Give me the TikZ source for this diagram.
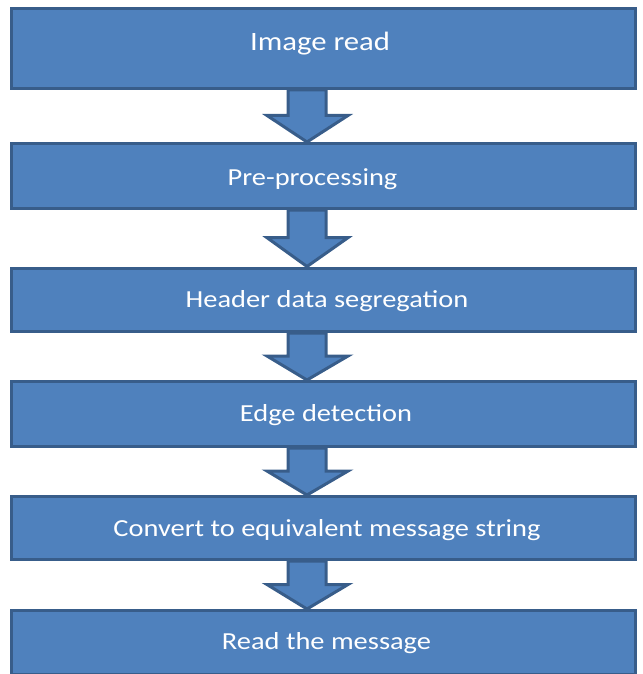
\documentclass[tikz,border=0pt]{standalone}
\usepackage{graphicx}
\usepackage{fontspec}
\setmainfont{Carlito}
\usetikzlibrary{calc}
\definecolor{boxfill}{HTML}{4F81BD}
\definecolor{boxline}{HTML}{385D8A}
\tikzset{
  box/.style={draw=boxline, fill=boxfill, line width=3pt, rectangle, minimum width=624pt, inner sep=0pt},
  lbl/.style={text=white, anchor=base, inner sep=0pt, font=\fontsize{24.5}{28}\selectfont},
  bigarrow/.style={draw=boxline, fill=boxfill, line width=3pt, line join=miter}
}
\newcommand\blockarrow[2]{%
  \path[bigarrow] let \p1=(#1.south), \p2=(#2.north), \n1={\y1+0.49*(\y2-\y1)} in
    (288pt,\y1) -- (288pt,\n1) -- (267pt,\n1) -- (307pt,\y2) -- (348pt,\n1) -- (326pt,\n1) -- (326pt,\y1) -- cycle;}
\begin{document}
\begin{tikzpicture}[x=1pt,y=-1pt]
\useasboundingbox (0,0) rectangle (642,674);
% boxes
\node[box, minimum height=80pt] (b1) at (323.5,48.5) {};
\node[box, minimum height=65pt] (b2) at (323.5,176) {};
\node[box, minimum height=63.5pt] (b3) at (323.5,299.75) {};
\node[box, minimum height=65pt] (b4) at (323.5,414) {};
\node[box, minimum height=63pt] (b5) at (323.5,528) {};
\node[box, minimum height=64pt] (b6) at (323.5,642.5) {};
% arrows
\blockarrow{b1}{b2}
\blockarrow{b2}{b3}
\blockarrow{b3}{b4}
\blockarrow{b4}{b5}
\blockarrow{b5}{b6}
% labels
\node[lbl, font=\fontsize{26.5}{30}\selectfont] (t1) at (320,50.5) {\scalebox{1.16}[1]{Image read}};
\node[lbl] (t2) at (312.5,185.9) {\scalebox{1.16}[1]{Pre-processing}};
\node[lbl] (t3) at (327,307.9) {\scalebox{1.16}[1]{Header data segregation}};
\node[lbl] (t4) at (326,421.9) {\scalebox{1.16}[1]{Edge detection}};
\node[lbl] (t5) at (327,536.9) {\scalebox{1.16}[1]{Convert to equivalent message string}};
\node[lbl] (t6) at (326.5,649.6) {\scalebox{1.16}[1]{Read the message}};
\end{tikzpicture}
\end{document}
